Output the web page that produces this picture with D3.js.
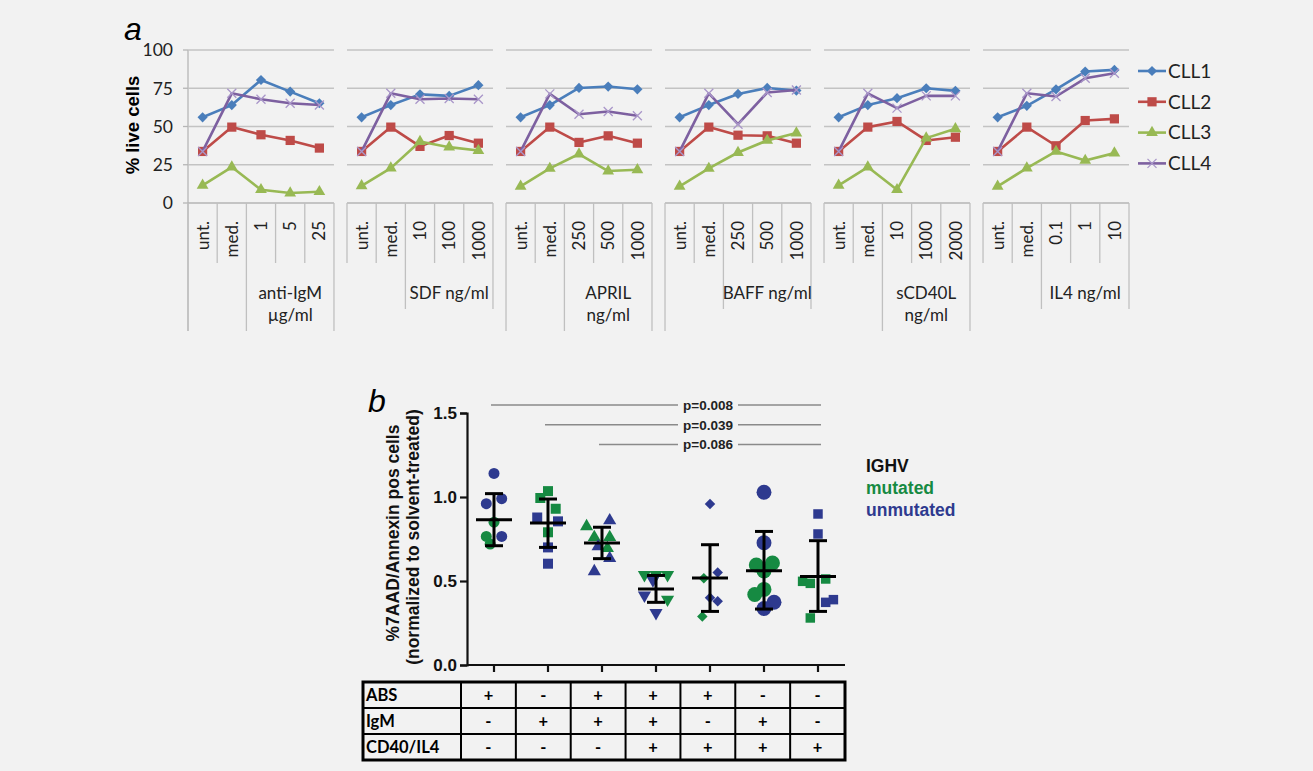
<!DOCTYPE html>
<html>
<head>
<meta charset="utf-8">
<script src="https://cdn.jsdelivr.net/npm/d3@7"></script>
<style>
  body { margin: 0; background: #f2f2f2; }
  svg { display: block; }
</style>
</head>
<body>
<div id="chart"></div>
<script>
(function () {

// ---------- panel a data ----------
var conditions = ["anti-IgM", "SDF", "APRIL", "BAFF", "sCD40L", "IL4"];
var groupLabels = [["anti-IgM", "µg/ml"], ["SDF ng/ml"], ["APRIL", "ng/ml"], ["BAFF ng/ml"], ["sCD40L", "ng/ml"], ["IL4 ng/ml"]];
var doseLabels = [
    ["unt.", "med.", "1", "5", "25"],
    ["unt.", "med.", "10", "100", "1000"],
    ["unt.", "med.", "250", "500", "1000"],
    ["unt.", "med.", "250", "500", "1000"],
    ["unt.", "med.", "10", "1000", "2000"],
    ["unt.", "med.", "0.1", "1", "10"]
];
var seriesNames = ["CLL1", "CLL2", "CLL3", "CLL4"];
var cll1 = [[56, 64, 80.4, 72.8, 65.2], [56, 64, 71, 70, 77], [56, 64, 75.2, 76.1, 74.3], [56, 64, 71.3, 75.2, 73.5], [56, 64, 68.5, 75, 73.3], [56, 63.5, 74.3, 85.9, 87]];
var cll2 = [[33.7, 49.6, 44.6, 40.9, 35.9], [33.7, 49.6, 37, 44.1, 39.1], [33.7, 49.6, 39.6, 43.9, 39.1], [33.7, 49.6, 44.3, 43.9, 39.1], [33.7, 49.6, 53.3, 40.9, 43], [33.7, 49.6, 37.4, 53.9, 55]];
var cll3 = [[11.5, 23.5, 8.7, 6.5, 7.4], [11.2, 22.8, 40.2, 36.5, 34.3], [10.9, 22.6, 32, 20.9, 21.7], [10.9, 22.6, 33, 40.9, 45.7], [11.5, 23.5, 8.7, 42.4, 48.5], [10.9, 22.8, 33.7, 27.8, 32.6]];
var cll4 = [[33.7, 71.7, 67.8, 65.2, 64.1], [33.7, 71.7, 67.8, 68.3, 67.8], [33.7, 71.3, 58, 59.8, 57], [33.7, 71.7, 51.5, 72.2, 73.9], [33.7, 71.7, 62, 70, 70], [33.7, 71.7, 69.6, 81.5, 84.8]];
var yTicksA = [0, 25, 50, 75, 100];

// ---------- panel b data ----------
var treatments = ["ABS", "IgM", "CD40/IL4"];
var absRow = ["+", "-", "+", "+", "+", "-", "-"];
var igmRow = ["-", "+", "+", "+", "-", "+", "-"];
var cd40Row = ["-", "-", "-", "+", "+", "+", "+"];
var groupMeans = [0.865, 0.845, 0.726, 0.452, 0.518, 0.561, 0.527];
var groupUpper = [1.02, 0.988, 0.82, 0.533, 0.716, 0.795, 0.74];
var groupLower = [0.71, 0.70, 0.633, 0.373, 0.319, 0.333, 0.319];
// per group: [value, IGHV status, jitter slot]
var pointsB = [
    [[1.14, "u", 0], [0.96, "u", -1], [0.99, "u", 1], [0.85, "m", 0], [0.765, "m", -1], [0.765, "u", 1], [0.72, "m", -0.5]],
    [[1.035, "m", 0], [0.994, "m", -1], [0.93, "m", 1], [0.878, "u", -1.4], [0.855, "u", 1.3], [0.79, "m", 0], [0.70, "u", 0], [0.603, "u", 0]],
    [[0.825, "m", -2], [0.86, "u", 1], [0.76, "m", -1], [0.76, "m", 1], [0.705, "u", -0.5], [0.695, "m", 0.7], [0.635, "u", 1], [0.557, "u", -1]],
    [[0.537, "m", -1.5], [0.537, "m", 0], [0.537, "m", 1.5], [0.505, "u", -0.4], [0.415, "u", -1.5], [0.39, "m", 1.5], [0.31, "u", 0]],
    [[0.958, "u", 0], [0.551, "u", 1], [0.516, "m", -0.8], [0.40, "u", 0], [0.379, "u", 1], [0.289, "m", -1]],
    [[1.028, "u", 0], [0.728, "u", 0], [0.607, "m", 1.1], [0.595, "m", -1], [0.56, "m", 0], [0.45, "m", 0], [0.42, "m", -1.2], [0.373, "u", 1.3], [0.336, "u", 0]],
    [[0.899, "u", 0], [0.78, "u", 0], [0.498, "m", -2], [0.486, "m", -1], [0.512, "m", 1], [0.373, "u", 1], [0.389, "u", 2], [0.28, "m", -1]]
];
var pLabels = ["p=0.008", "p=0.039", "p=0.086"];
var pFrom = [0, 1, 2];
var pTo = [6, 6, 6];
var yTicksB = [0, 0.5, 1.0, 1.5];
var ighvLabels = ["IGHV", "mutated", "unmutated"];

// ---------- styles ----------
var colorsA = ["#4a7ebb", "#be4b48", "#98b954", "#7d60a0"];
var shapesA = ["diamond", "square", "triangle", "x"];
var blue = "#2e3a8f", green = "#168a42";
var shapesB = ["circle", "square", "triangle", "triangleDown", "diamond", "circle", "square"];
var sizesB = [95, 100, 75, 75, 55, 175, 90];
var grid = "#c3c3c3";
var fontA = "Lato, 'Open Sans', sans-serif";
var fontB = "'Liberation Sans', Arial, sans-serif";

var svg = d3.select('#chart')
    .append('svg')
    .attr('width', 1313)
    .attr('height', 771);

// ================= panel a =================
var yA = d3.scaleLinear().domain([0, 100]).range([203, 50]);
var panelX = d3.scaleBand().domain(conditions).range([188, 1129]).paddingInner(0.082);
var bw = panelX.bandwidth();
var catX = d3.scaleBand().domain(d3.range(5)).range([0, bw]);
var cw = catX.bandwidth();
var leftLong = [true, false, true, true, false, false];

var gA = svg.append('g');

svg.append('text')
    .attr('x', 124).attr('y', 40)
    .style('font', 'italic 32px ' + fontB)
    .text('a');

// y axis labels
gA.selectAll('.ytick')
    .data(yTicksA)
    .enter().append('text')
    .attr('x', 173).attr('y', function (d) { return yA(d); })
    .attr('dy', '0.36em')
    .attr('text-anchor', 'end')
    .style('font', '17.5px ' + fontA)
    .attr('fill', '#222')
    .text(function (d) { return d; });

gA.append('text')
    .attr('transform', 'translate(139,125) rotate(-90)')
    .attr('text-anchor', 'middle')
    .style('font', 'bold 18.5px ' + fontB)
    .text('% live cells');

gA.append('line')
    .attr('x1', 188).attr('x2', 188)
    .attr('y1', yA(100)).attr('y2', 331)
    .attr('stroke', '#b5b5b5').attr('stroke-width', 1.3);

gA.selectAll('.ymark')
    .data(yTicksA)
    .enter().append('line')
    .attr('x1', 183).attr('x2', 188)
    .attr('y1', function (d) { return yA(d); })
    .attr('y2', function (d) { return yA(d); })
    .attr('stroke', '#b5b5b5').attr('stroke-width', 1.3);

var symbolA = {
    diamond: d3.symbol().type(d3.symbolSquare).size(52)(),
    square: d3.symbol().type(d3.symbolSquare).size(85)(),
    triangle: d3.symbol().type(d3.symbolTriangle).size(60)(),
    x: "M-4.5,-4.5L4.5,4.5M-4.5,4.5L4.5,-4.5"
};

conditions.forEach(function (c, pi) {
    var px = panelX(c);
    var pg = gA.append('g').attr('transform', 'translate(' + px + ',0)');

    // gridlines
    pg.selectAll('.grid')
        .data(yTicksA.slice(1))
        .enter().append('line')
        .attr('x1', 0).attr('x2', bw)
        .attr('y1', function (d) { return yA(d); })
        .attr('y2', function (d) { return yA(d); })
        .attr('stroke', grid).attr('stroke-width', 1.5);

    // base axis
    pg.append('line')
        .attr('x1', 0).attr('x2', bw)
        .attr('y1', yA(0)).attr('y2', yA(0))
        .attr('stroke', '#b5b5b5').attr('stroke-width', 1.5);

    // category divider lines
    var labelBottom = groupLabels[pi].length > 1 ? 331 : 309;
    d3.range(6).forEach(function (b) {
        var y2 = 263;
        if (b === 2 || b === 5) y2 = labelBottom;
        if (b === 0 && leftLong[pi]) y2 = 331;
        pg.append('line')
            .attr('x1', b * cw).attr('x2', b * cw)
            .attr('y1', yA(0)).attr('y2', y2)
            .attr('stroke', '#c0c0c0').attr('stroke-width', 1.3);
    });

    // dose labels
    pg.selectAll('.dose')
        .data(doseLabels[pi])
        .enter().append('text')
        .attr('transform', function (d, i) {
            return 'translate(' + (catX(i) + cw / 2) + ',221) rotate(-90)';
        })
        .attr('dy', '0.36em')
        .attr('text-anchor', 'end')
        .style('font', '17px ' + fontA)
        .attr('fill', '#222')
        .text(function (d) { return d; });

    // group label
    pg.selectAll('.glabel')
        .data(groupLabels[pi])
        .enter().append('text')
        .attr('x', (catX(2) + bw) / 2)
        .attr('y', function (d, i) { return 299 + i * 22; })
        .attr('text-anchor', 'middle')
        .style('font', '17px ' + fontA)
        .attr('fill', '#222')
        .text(function (d) { return d; });

    // series
    [cll1, cll2, cll3, cll4].forEach(function (series, si) {
        var vals = series[pi];
        var line = d3.line()
            .x(function (d, i) { return catX(i) + cw / 2; })
            .y(function (d) { return yA(d); });
        pg.append('path')
            .datum(vals)
            .attr('d', line)
            .attr('fill', 'none')
            .attr('stroke', colorsA[si])
            .attr('stroke-width', 2.6)
            .attr('stroke-linejoin', 'round');
        pg.selectAll('.m' + si)
            .data(vals)
            .enter().append('path')
            .attr('d', symbolA[shapesA[si]])
            .attr('transform', function (d, i) {
                return 'translate(' + (catX(i) + cw / 2) + ',' + yA(d) + ')' + (shapesA[si] === 'diamond' ? ' rotate(45)' : '');
            })
            .attr('fill', shapesA[si] === 'x' ? 'none' : colorsA[si])
            .attr('stroke', shapesA[si] === 'x' ? '#a996c9' : 'none')
            .attr('stroke-width', 1.3);
    });
});

// legend a
var legA = gA.selectAll('.legA')
    .data(seriesNames)
    .enter().append('g')
    .attr('transform', function (d, i) { return 'translate(1138,' + (71 + i * 30.8) + ')'; });
legA.append('line')
    .attr('x1', 0).attr('x2', 28)
    .attr('stroke', function (d, i) { return colorsA[i]; })
    .attr('stroke-width', 2.6);
legA.append('path')
    .attr('d', function (d, i) { return symbolA[shapesA[i]]; })
    .attr('transform', function (d, i) { return 'translate(14,0)' + (shapesA[i] === 'diamond' ? ' rotate(45)' : ''); })
    .attr('fill', function (d, i) { return shapesA[i] === 'x' ? 'none' : colorsA[i]; })
    .attr('stroke', function (d, i) { return shapesA[i] === 'x' ? '#a996c9' : 'none'; })
    .attr('stroke-width', 1.3);
legA.append('text')
    .attr('x', 30).attr('dy', '0.36em')
    .style('font', '19px ' + fontA)
    .attr('fill', '#222')
    .text(function (d) { return d; });

// ================= panel b =================
var yB = d3.scaleLinear().domain([0, 1.5]).range([665, 413]);
var xB = d3.scaleBand().domain(d3.range(7)).range([467, 845]);
var gx = function (i) { return xB(i) + xB.bandwidth() / 2; };
var slot = 7.7;

var gB = svg.append('g');

svg.append('text')
    .attr('x', 368).attr('y', 412)
    .style('font', 'italic 32px ' + fontB)
    .text('b');

// axes
gB.append('g')
    .attr('transform', 'translate(467,0)')
    .call(d3.axisLeft(yB).tickValues(yTicksB).tickFormat(d3.format('.1f')).tickSize(7).tickPadding(3))
    .call(function (g) {
        g.select('.domain').attr('stroke', '#111').attr('stroke-width', 2.2);
        g.selectAll('.tick line').attr('stroke', '#111').attr('stroke-width', 2.2);
        g.selectAll('.tick text').style('font', 'bold 17px ' + fontB).attr('fill', '#111');
    });

gB.append('g')
    .attr('transform', 'translate(0,665)')
    .call(d3.axisBottom(xB).tickSize(7).tickFormat(''))
    .call(function (g) {
        g.select('.domain').attr('stroke', '#111').attr('stroke-width', 2.2).attr('d', 'M467,0H845');
        g.selectAll('.tick line').attr('stroke', '#111').attr('stroke-width', 2.2);
    });

gB.append('text')
    .attr('transform', 'translate(399,533) rotate(-90)')
    .attr('text-anchor', 'middle')
    .style('font', 'bold 17.5px ' + fontB)
    .attr('fill', '#111')
    .text('%7AAD/Annexin pos cells');
gB.append('text')
    .attr('transform', 'translate(419,537) rotate(-90)')
    .attr('text-anchor', 'middle')
    .style('font', 'bold 17.5px ' + fontB)
    .attr('fill', '#111')
    .text('(normalized to solvent-treated)');

// significance lines
pLabels.forEach(function (p, i) {
    var y = yB(1.5) - 8 + i * 19.7;
    var x1 = gx(pFrom[i]) - 3, x2 = gx(pTo[i]) + 3;
    var tx = gx(4) - 2;
    var half = 30;
    gB.append('line').attr('x1', x1).attr('x2', tx - half).attr('y1', y).attr('y2', y)
        .attr('stroke', '#8a8a8a').attr('stroke-width', 1.5);
    gB.append('line').attr('x1', tx + half).attr('x2', x2).attr('y1', y).attr('y2', y)
        .attr('stroke', '#8a8a8a').attr('stroke-width', 1.5);
    gB.append('text')
        .attr('x', tx).attr('y', y).attr('dy', '0.36em')
        .attr('text-anchor', 'middle')
        .style('font', 'bold 13.5px ' + fontB)
        .attr('fill', '#222')
        .text(p);
});

// points
var symType = {
    circle: d3.symbolCircle, square: d3.symbolSquare, triangle: d3.symbolTriangle,
    triangleDown: d3.symbolTriangle, diamond: d3.symbolSquare
};
pointsB.forEach(function (pts, gi) {
    var shape = shapesB[gi];
    var sym = d3.symbol().type(symType[shape]).size(sizesB[gi]);
    gB.selectAll('.pt' + gi)
        .data(pts)
        .enter().append('path')
        .attr('d', sym)
        .attr('transform', function (d) {
            var rot = shape === 'triangleDown' ? ' rotate(180)' : (shape === 'diamond' ? ' rotate(45)' : '');
            return 'translate(' + (gx(gi) + d[2] * slot) + ',' + yB(d[0]) + ')' + rot;
        })
        .attr('fill', function (d) { return d[1] === 'm' ? green : blue; });
});

// mean and error bars
d3.range(7).forEach(function (gi) {
    var x = gx(gi);
    gB.append('line').attr('x1', x).attr('x2', x)
        .attr('y1', yB(groupUpper[gi])).attr('y2', yB(groupLower[gi]))
        .attr('stroke', '#000').attr('stroke-width', 3);
    [groupUpper[gi], groupLower[gi]].forEach(function (v) {
        gB.append('line').attr('x1', x - 9).attr('x2', x + 9)
            .attr('y1', yB(v)).attr('y2', yB(v))
            .attr('stroke', '#000').attr('stroke-width', 3);
    });
    gB.append('line').attr('x1', x - 18).attr('x2', x + 18)
        .attr('y1', yB(groupMeans[gi])).attr('y2', yB(groupMeans[gi]))
        .attr('stroke', '#000').attr('stroke-width', 3);
});

// IGHV legend
gB.selectAll('.ighv')
    .data(ighvLabels)
    .enter().append('text')
    .attr('x', 866)
    .attr('y', function (d, i) { return 472 + i * 22; })
    .style('font', 'bold 17.5px ' + fontB)
    .attr('fill', function (d, i) { return [ '#111', green, blue ][i]; })
    .text(function (d) { return d; });

// treatment table
var tLeft = 363, tFirst = 461, tRight = 845, tTop = 682, rowH = 26;
var colX = d3.scaleBand().domain(d3.range(7)).range([tFirst, tRight]);
var rows = [absRow, igmRow, cd40Row];
var gT = svg.append('g');

d3.range(1, 3).forEach(function (r) {
    gT.append('line').attr('x1', tLeft).attr('x2', tRight)
        .attr('y1', tTop + r * rowH).attr('y2', tTop + r * rowH)
        .attr('stroke', '#000').attr('stroke-width', 2);
});
d3.range(7).forEach(function (c) {
    gT.append('line').attr('x1', colX(c)).attr('x2', colX(c))
        .attr('y1', tTop).attr('y2', tTop + 3 * rowH)
        .attr('stroke', '#000').attr('stroke-width', 2);
});
gT.append('rect')
    .attr('x', tLeft).attr('y', tTop)
    .attr('width', tRight - tLeft).attr('height', 3 * rowH)
    .attr('fill', 'none').attr('stroke', '#000').attr('stroke-width', 3);

rows.forEach(function (row, r) {
    var y = tTop + r * rowH + rowH / 2;
    gT.append('text')
        .attr('x', tLeft + 3).attr('y', y).attr('dy', '0.36em')
        .style('font', 'bold 16.5px ' + fontA)
        .text(treatments[r]);
    gT.selectAll('.cell' + r)
        .data(row)
        .enter().append('text')
        .attr('x', function (d, i) { return colX(i) + colX.bandwidth() / 2; })
        .attr('y', y).attr('dy', '0.36em')
        .attr('text-anchor', 'middle')
        .style('font', 'bold 16.5px ' + fontA)
        .text(function (d) { return d; });
});

})();
</script>
</body>
</html>
